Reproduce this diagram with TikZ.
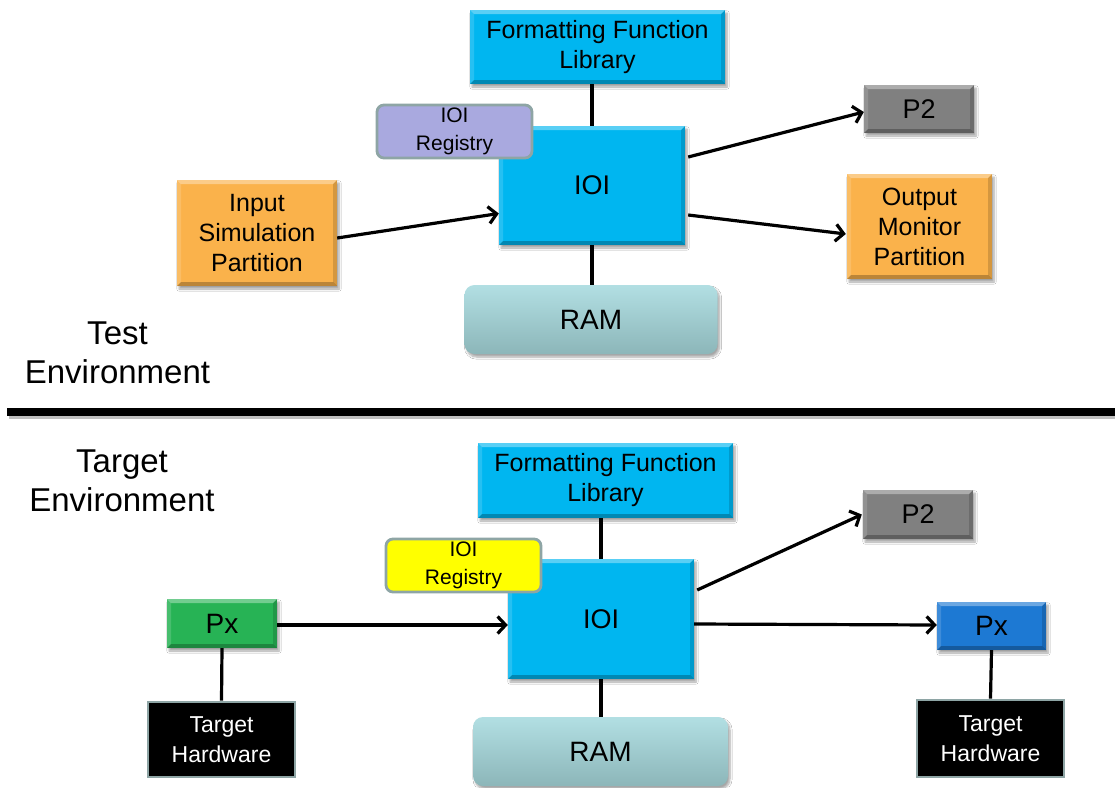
\documentclass[tikz,border=0pt]{standalone}
\usepackage{fontspec}
\setmainfont{Liberation Sans}
\usetikzlibrary{arrows.meta,calc,shadows.blur}

\definecolor{cyanbox}{HTML}{00B6F0}
\definecolor{orangebox}{HTML}{FAB24B}
\definecolor{graybox}{HTML}{808080}
\definecolor{lavbox}{HTML}{A9A9DF}
\definecolor{yelbox}{HTML}{FFFF00}
\definecolor{edgegray}{HTML}{8EA5A5}
\definecolor{greenbox}{HTML}{27B355}
\definecolor{bluebox}{HTML}{1D79D3}
\definecolor{ramtop}{HTML}{B2DFE3}
\definecolor{rambot}{HTML}{8CB6B9}

\tikzset{
  fs/.style={font=\fontsize{#1}{\the\numexpr #1*6/5\relax}\selectfont},
  bevel/.style={path picture={
    \coordinate (bnw) at (path picture bounding box.north west);
    \coordinate (bne) at (path picture bounding box.north east);
    \coordinate (bsw) at (path picture bounding box.south west);
    \coordinate (bse) at (path picture bounding box.south east);
    \fill[white,opacity=.35] (bnw) -- (bne) -- ([xshift=-4pt,yshift=-4pt]bne) -- ([xshift=4pt,yshift=-4pt]bnw) -- cycle;
    \fill[white,opacity=.15] (bnw) -- (bsw) -- ([xshift=4pt,yshift=4pt]bsw) -- ([xshift=4pt,yshift=-4pt]bnw) -- cycle;
    \fill[black,opacity=.15] (bne) -- (bse) -- ([xshift=-4pt,yshift=4pt]bse) -- ([xshift=-4pt,yshift=-4pt]bne) -- cycle;
    \fill[black,opacity=.25] (bsw) -- (bse) -- ([xshift=-4pt,yshift=4pt]bse) -- ([xshift=4pt,yshift=4pt]bsw) -- cycle;
  }},
  softshadow/.style={blur shadow={shadow xshift=2pt, shadow yshift=-3pt, shadow blur steps=6, shadow opacity=35}},
  blockbox/.style={rectangle, inner sep=0pt, align=center, text=black, softshadow, bevel, fill=#1},
  tagbox/.style={rectangle, rounded corners=7pt, inner sep=0pt, align=center, fill=#1, draw=edgegray, line width=2.8pt, font=\fontsize{21}{28}\selectfont},
  hwbox/.style={rectangle, inner sep=0pt, align=center, fill=black, text=white, draw=edgegray, line width=2.8pt, font=\fontsize{23}{30}\selectfont, minimum width=147pt},
  rambox/.style={rectangle, rounded corners=10pt, inner sep=0pt, top color=ramtop, bottom color=rambot, softshadow, fs=28, minimum width=253pt, minimum height=69pt},
  envlabel/.style={inner sep=0pt, align=center, font=\fontsize{33}{39}\selectfont},
  link/.style={line width=3.2pt},
  arw/.style={line width=3.2pt, -{Straight Barb[length=8pt,width=17pt]}},
}

\begin{document}
\begin{tikzpicture}[x=1pt,y=-1pt]
\fill[white] (0,0) rectangle (1115,787);
\useasboundingbox (0,0) rectangle (1115,787);

% ---------- test environment ----------
\node[blockbox=cyanbox, fs=25, minimum width=255pt, minimum height=74pt] (ffl1) at (597.5,47) {Formatting Function\\Library};
\node[blockbox=cyanbox, fs=27, minimum width=186pt, minimum height=119pt] (ioi1) at (592,185.5) {IOI};
\node[tagbox=lavbox, minimum width=155pt, minimum height=53pt] (reg1) at (454.5,131.5) {IOI\\Registry};
\node[blockbox=orangebox, fs=25, minimum width=160pt, minimum height=106pt] (isp) at (257,233) {Input\\Simulation\\Partition};
\node[blockbox=graybox, fs=27, minimum width=110pt, minimum height=48pt] (p21) at (919,109) {P2};
\node[blockbox=orangebox, fs=25, minimum width=145pt, minimum height=105pt] (omp) at (919.5,226.5) {Output\\Monitor\\Partition};
\node[rambox] (ram1) at (591,319.5) {RAM};

\node[envlabel] (testenv) at (117.5,353) {Test\\Environment};

\draw[link] (ioi1.north) -- (ioi1.north |- ffl1.south);
\draw[link] (ioi1.south) -- (ioi1.south |- ram1.north);
\draw[arw] ($(isp.east)+(0,5)$) -- ($(ioi1.west)+(0,28)$);
\draw[arw] ($(ioi1.east)+(3,-28.5)$) -- ($(p21.west)+(0,3)$);
\draw[arw] ($(ioi1.east)+(3,29.5)$) -- ($(omp.west)+(-1,7.5)$);

% ---------- divider ----------
\coordinate (divl) at (7,412);
\coordinate (divr) at (1115,412);
\draw[line width=5pt, black, opacity=.25] ($(divl)+(2,4)$) -- ($(divr)+(0,4)$);
\draw[line width=8.5pt] (divl) -- (divr);

% ---------- target environment ----------
\node[envlabel] (tgtenv) at (122,481) {Target\\Environment};

\node[blockbox=cyanbox, fs=25, minimum width=255pt, minimum height=75pt] (ffl2) at (605.5,480.5) {Formatting Function\\Library};
\node[blockbox=cyanbox, fs=27, minimum width=186pt, minimum height=120pt] (ioi2) at (601,619) {IOI};
\node[tagbox=yelbox, minimum width=155pt, minimum height=53pt] (reg2) at (463.5,565.5) {IOI\\Registry};
\node[blockbox=greenbox, fs=28, minimum width=110pt, minimum height=49pt] (pxg) at (222,623.5) {Px};
\node[hwbox, minimum height=75pt] (th1) at (221.5,739.5) {Target\\Hardware};
\node[blockbox=graybox, fs=27, minimum width=110pt, minimum height=49pt] (p22) at (918,514.5) {P2};
\node[blockbox=bluebox, fs=28, minimum width=109pt, minimum height=48pt] (pxb) at (991.5,626) {Px};
\node[hwbox, minimum height=77pt] (th2) at (990.5,738.5) {Target\\Hardware};
\node[rambox, minimum width=255pt] (ram2) at (600.5,751.5) {RAM};

\draw[link] (ioi2.north) -- (ioi2.north |- ffl2.south);
\draw[link] (ioi2.south) -- (ioi2.south |- ram2.north);
\draw[link] (pxg.south) -- (th1.north);
\draw[link] (pxb.south) -- (th2.north);
\draw[arw] ($(pxg.east)+(0,1.5)$) -- ($(ioi2.west)+(0,6)$);
\draw[arw] ($(ioi2.east)+(3,-29)$) -- ($(p22.west)+(-1,0)$);
\draw[arw] ($(ioi2.east)+(0,5)$) -- ($(pxb.west)+(0,-1)$);
\end{tikzpicture}
\end{document}
